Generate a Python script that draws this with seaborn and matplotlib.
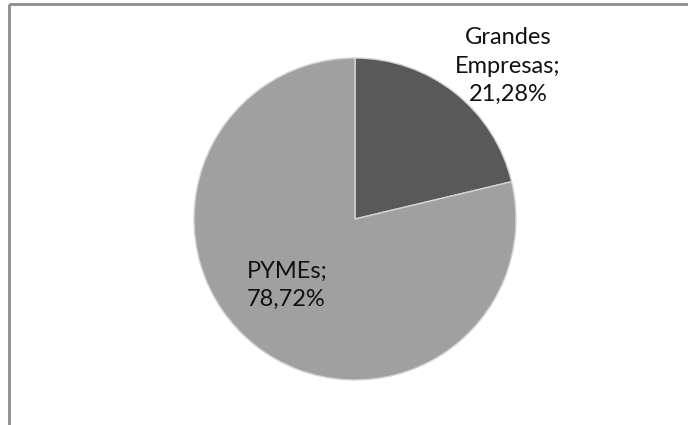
import matplotlib
matplotlib.use("Agg")
import matplotlib.pyplot as plt
import seaborn as sns

# Share of companies by size
categories = ["Grandes Empresas", "PYMEs"]
shares = [21.28, 78.72]
label_text = ["Grandes\nEmpresas;\n21,28%", "PYMEs;\n78,72%"]

sns.set_theme(style="white")
plt.rcParams["font.family"] = ["Lato", "DejaVu Sans"]

colors = ["#595959", "#a0a0a0"]

fig = plt.figure(figsize=(6.88, 4.25), dpi=100)
ax = fig.add_axes([0, 0, 1, 1])

wedges, _ = ax.pie(
    shares,
    colors=colors,
    startangle=90,
    counterclock=False,
    center=(355, 206),
    radius=161,
    wedgeprops=dict(edgecolor="#d4d4d4", linewidth=1.0),
    frame=True,
)
ax.set_xlim(0, 688)
ax.set_ylim(0, 425)
ax.set_aspect("equal")
ax.axis("off")

# Data labels
ax.text(508, 359, label_text[0], ha="center", va="center",
        fontsize=17, color="#111111", linespacing=1.42)
ax.text(247, 140, label_text[1], ha="left", va="center",
        fontsize=17, color="#111111", linespacing=1.42)

# Chart area border (top and left edges)
ax.plot([9, 688], [421, 421], color="#8c8c8c", lw=2, solid_capstyle="butt")
ax.plot([9, 9], [0, 421], color="#8c8c8c", lw=2, solid_capstyle="butt")

fig.savefig("out.png", dpi=100)
